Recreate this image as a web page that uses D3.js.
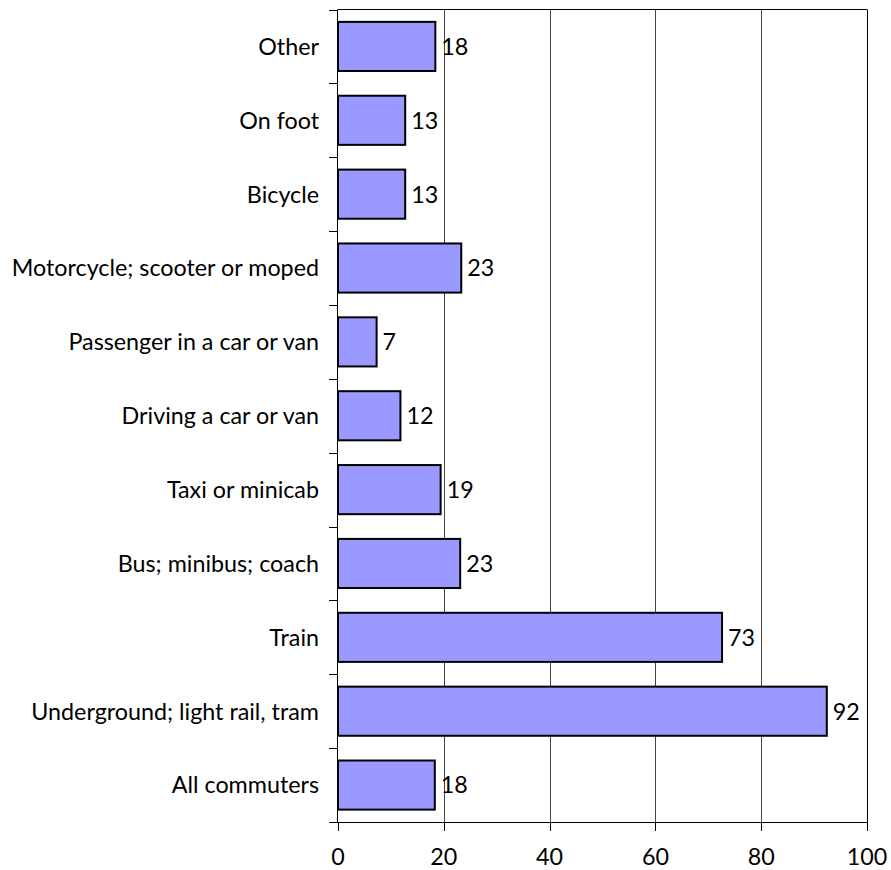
<!DOCTYPE html>
<html><head><meta charset="utf-8"><script src="https://cdn.jsdelivr.net/npm/d3@7"></script>
<style>body{margin:0;background:#fff}text{font-family:Lato,'Open Sans',sans-serif;fill:#000}</style></head>
<body>
<svg id="chart" width="891" height="870"></svg>
<script>
const categories = ["Other","On foot","Bicycle","Motorcycle; scooter or moped","Passenger in a car or van","Driving a car or van","Taxi or minicab","Bus; minibus; coach","Train","Underground; light rail, tram","All commuters"];
const values = [18.4,12.7,12.7,23.3,7.3,11.8,19.4,23.1,72.6,92.4,18.3];
const xTicks = [0,20,40,60,80,100];

(function(){
const svg = d3.select("#chart");
const pL = 338, pR = 867, pT = 9.5, pB = 822;
const x = d3.scaleLinear().domain([0,100]).range([pL,pR]);
const y = d3.scaleBand().domain(categories).range([pT,pB]).paddingInner(0.335).paddingOuter(0.1675);
const step = y.step();

svg.append("g").selectAll("line").data(xTicks.filter(d=>d>0&&d<100)).join("line")
  .attr("x1",d=>Math.round(x(d))+0.5).attr("x2",d=>Math.round(x(d))+0.5)
  .attr("y1",pT).attr("y2",pB).attr("stroke","#444").attr("stroke-width",1);
svg.append("line").attr("x1",pL).attr("x2",x(100)).attr("y1",pT).attr("y2",pT).attr("stroke","#000");
svg.append("line").attr("x1",Math.round(x(100))+0.5).attr("x2",Math.round(x(100))+0.5).attr("y1",pT).attr("y2",pB).attr("stroke","#000");

svg.append("g").selectAll("rect").data(categories).join("rect")
  .attr("x",x(0)).attr("y",d=>y(d)).attr("width",(d,i)=>x(values[i])-x(0)).attr("height",y.bandwidth())
  .attr("fill","#9999ff").attr("stroke","#000").attr("stroke-width",2);

svg.append("g").selectAll("text").data(categories).join("text")
  .attr("x",(d,i)=>x(values[i])+6).attr("y",d=>y(d)+y.bandwidth()/2).attr("dy","0.36em")
  .style("font-size","23.3px").text((d,i)=>Math.round(values[i]));

const yAxis = svg.append("g");
yAxis.append("line").attr("x1",pL-0.5).attr("x2",pL-0.5).attr("y1",pT).attr("y2",pB).attr("stroke","#000");
const bounds = d3.range(categories.length+1).map(k=>pT+k*step);
yAxis.selectAll("line.tick").data(bounds).join("line").attr("class","tick")
  .attr("x1",pL-9).attr("x2",pL).attr("y1",d=>Math.round(d)+0.5).attr("y2",d=>Math.round(d)+0.5).attr("stroke","#000");
yAxis.selectAll("text").data(categories).join("text")
  .attr("x",319).attr("y",d=>y(d)+y.bandwidth()/2).attr("dy","0.36em").attr("text-anchor","end")
  .style("font-size","23.3px").text(d=>d);

const xAxis = svg.append("g");
xAxis.append("line").attr("x1",pL-9).attr("x2",x(100)+0.5).attr("y1",pB+0.5).attr("y2",pB+0.5).attr("stroke","#000");
xAxis.selectAll("line.tick").data(xTicks).join("line").attr("class","tick")
  .attr("x1",d=>Math.round(x(d))+0.5).attr("x2",d=>Math.round(x(d))+0.5).attr("y1",pB).attr("y2",pB+9).attr("stroke","#000");
xAxis.selectAll("text").data(xTicks).join("text")
  .attr("x",d=>x(d)).attr("y",865).attr("text-anchor","middle")
  .style("font-size","23.3px").text(d=>d);
})();
</script></body></html>
